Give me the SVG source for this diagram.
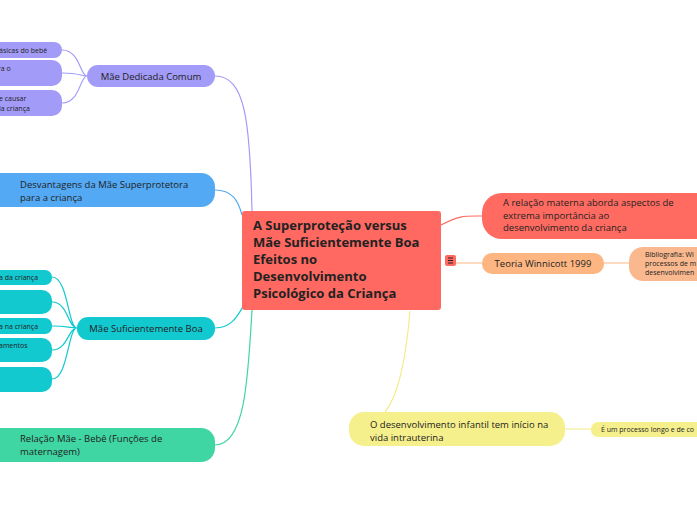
<svg xmlns="http://www.w3.org/2000/svg" width="697" height="520" viewBox="0 0 697 520">
<style>
text{font-family:"Open Sans","Noto Sans",sans-serif;fill:#222}
.s{font-size:7px}.m{font-size:9.5px}
.c{fill:none;stroke-width:1.2}
</style>
<rect width="697" height="520" fill="#fff"/>
<g id="connectors">
<path class="c" stroke="#a29bf7" d="M215,76 C245,76 250,120 252,211"/>
<path class="c" stroke="#a29bf7" d="M62,50 C80,50 80,76 87,76 M62,73 C80,73 80,76 87,76 M62,103 C80,103 80,76 87,76"/>
<path class="c" stroke="#54a9f4" d="M215,190 C232,190 238,200 242,215"/>
<path class="c" stroke="#12c9d0" d="M215,328 C232,328 238,315 244,305"/>
<path class="c" stroke="#12c9d0" d="M52,277 C68,277 68,328 77,328 M52,302 C68,302 68,328 77,328 M52,326 C68,326 68,328 77,328 M52,350 C68,350 68,328 77,328 M52,379 C68,379 68,328 77,328"/>
<path class="c" stroke="#3fd6a3" d="M215,445 C245,445 248,380 252,310"/>
<path class="c" stroke="#ff6b61" d="M441,225 C460,215 465,216 482,216"/>
<path class="c" stroke="#fdb682" d="M456,263 H482 M604,263 H629"/>
<path class="c" stroke="#f3ec88" d="M410,311 C405,370 395,400 385,412 M565,429 H591"/>
</g>
<g id="n-center"><rect x="242" y="211" width="199" height="99" rx="3" fill="#ff6961"/>
<text x="253" y="230" font-size="13" font-weight="bold"><tspan x="253">A Superproteção versus</tspan><tspan x="253" dy="17">Mãe Suficientemente Boa</tspan><tspan x="253" dy="17">Efeitos no</tspan><tspan x="253" dy="17">Desenvolvimento</tspan><tspan x="253" dy="17">Psicológico da Criança</tspan></text></g>
<g id="n-icon"><rect x="445" y="255" width="11" height="11" rx="2" fill="#ff6961"/><path d="M448,258h5M448,260.5h5M448,263h5" stroke="#222" stroke-width="1"/></g>
<g id="n-mdc"><rect x="87" y="65" width="128" height="22" rx="11" fill="#a29bf7"/><text x="151" y="80" class="m" text-anchor="middle">Mãe Dedicada Comum</text></g>
<g id="n-mdc1"><rect x="-20" y="42" width="82" height="16" rx="8" fill="#a29bf7"/><text x="-1" y="53" class="s">ásicas do bebê</text></g>
<g id="n-mdc2"><rect x="-20" y="60" width="82" height="26" rx="10" fill="#a29bf7"/><text x="-2" y="71" class="s">ra o</text></g>
<g id="n-mdc3"><rect x="-20" y="90" width="82" height="26" rx="10" fill="#a29bf7"/><text x="-1" y="101" class="s"><tspan x="-1">e causar</tspan><tspan x="-1" dy="9.5">la criança</tspan></text></g>
<g id="n-desv"><rect x="-20" y="173" width="235" height="34" rx="14" fill="#54a9f4"/><text x="20" y="188" class="m"><tspan x="20">Desvantagens da Mãe Superprotetora</tspan><tspan x="20" dy="13">para a criança</tspan></text></g>
<g id="n-msb"><rect x="77" y="317" width="138" height="23" rx="11" fill="#12c9d0"/><text x="146" y="332" class="m" text-anchor="middle">Mãe Suficientemente Boa</text></g>
<g id="n-msb1"><rect x="-20" y="270" width="72" height="15" rx="7" fill="#12c9d0"/><text x="-1" y="280" class="s">a da criança</text></g>
<g id="n-msb2"><rect x="-20" y="290" width="72" height="24" rx="10" fill="#12c9d0"/><text x="-2" y="300" class="s">.</text></g>
<g id="n-msb3"><rect x="-20" y="318" width="72" height="16" rx="7" fill="#12c9d0"/><text x="-1" y="329" class="s">a na criança</text></g>
<g id="n-msb4"><rect x="-20" y="338" width="72" height="24" rx="10" fill="#12c9d0"/><text x="-1" y="348" class="s">amentos</text></g>
<g id="n-msb5"><rect x="-20" y="367" width="72" height="25" rx="10" fill="#12c9d0"/></g>
<g id="n-rel"><rect x="-20" y="428" width="235" height="34" rx="14" fill="#3fd6a3"/><text x="20" y="442" class="m"><tspan x="20">Relação Mãe - Bebê (Funções de</tspan><tspan x="20" dy="13">maternagem)</tspan></text></g>
<g id="n-arel"><rect x="482" y="193" width="235" height="46" rx="20" fill="#ff6b61"/><text x="503" y="206" class="m"><tspan x="503">A relação materna aborda aspectos de</tspan><tspan x="503" dy="12.5">extrema importância ao</tspan><tspan x="503" dy="12.5">desenvolvimento da criança</tspan></text></g>
<g id="n-teoria"><rect x="482" y="253" width="122" height="21" rx="10" fill="#fdb682"/><text x="543" y="267" class="m" text-anchor="middle">Teoria Winnicott 1999</text></g>
<g id="n-bib"><rect x="629" y="247" width="100" height="34" rx="14" fill="#fab88e"/><text x="645" y="257" class="s"><tspan x="645">Bibliografia: Wi</tspan><tspan x="645" dy="9">processos de m</tspan><tspan x="645" dy="9">desenvolvimen</tspan></text></g>
<g id="n-des"><rect x="349" y="412" width="216" height="34" rx="15" fill="#f6f08c"/><text x="370" y="428" class="m"><tspan x="370">O desenvolvimento infantil tem início na</tspan><tspan x="370" dy="13">vida intrauterina</tspan></text></g>
<g id="n-proc"><rect x="591" y="422" width="130" height="15" rx="7" fill="#f6f08c"/><text x="601" y="432" class="s">É um processo longo e de co</text></g>
</svg>
